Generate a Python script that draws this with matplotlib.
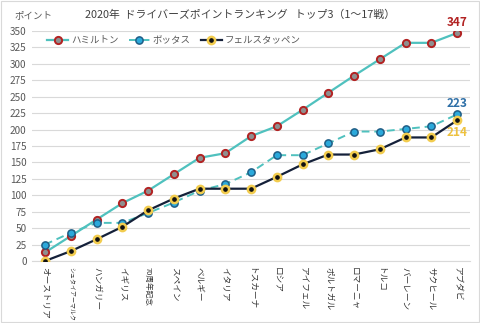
import matplotlib
matplotlib.use("Agg")
import matplotlib.pyplot as plt

plt.rcParams['font.family'] = ['Noto Sans CJK JP', 'DejaVu Sans']

races = ["オーストリア", "シュタイアーマルク", "ハンガリー", "イギリス", "70周年記念", "スペイン",
         "ベルギー", "イタリア", "トスカーナ", "ロシア", "アイフェル", "ポルトガル",
         "ロマーニャ", "トルコ", "バーレーン", "サクヒール", "アブダビ"]
hamilton = [13, 38, 63, 88, 107, 132, 157, 164, 190, 205, 230, 256, 282, 307, 332, 332, 347]
bottas = [25, 43, 58, 58, 73, 89, 107, 117, 135, 161, 161, 179, 197, 197, 201, 205, 223]
verstappen = [0, 15, 33, 52, 77, 95, 110, 110, 110, 128, 147, 162, 162, 170, 188, 188, 214]
names = ["ハミルトン", "ボッタス", "フェルスタッペン"]

fig = plt.figure(figsize=(4.8, 3.23), dpi=100)
ax = fig.add_axes([0.067, 0.192, 0.912, 0.712])
x = list(range(len(races)))

ms = 5.2
ax.plot(x, hamilton, color='#4FC1BE', lw=1.6, marker='o', ms=ms,
        mfc='#8F8F8F', mec='#B22222', mew=1.4, label=names[0], zorder=3)
ax.plot(x, bottas, color='#4FC1BE', lw=1.4, ls=(0, (4, 2.5)), marker='o', ms=ms,
        mfc='#2BA9DB', mec='#1F5E86', mew=1.1, label=names[1], zorder=4)
ax.plot(x, verstappen, color='#142039', lw=1.6, marker='o', ms=ms,
        mfc='#111111', mec='#F2CC4E', mew=1.8, label=names[2], zorder=5)

ax.set_xlim(-0.5, len(races) - 0.5)
ax.set_ylim(0, 350)
ax.set_yticks(range(0, 351, 25))
ax.yaxis.grid(True, color='#D9D9D9', lw=0.8)
ax.set_axisbelow(True)
for s in ['top', 'right', 'left']:
    ax.spines[s].set_visible(False)
ax.spines['bottom'].set_color('#D9D9D9')
ax.tick_params(axis='y', length=0, labelsize=7.2, labelcolor='#595959', pad=4)
ax.tick_params(axis='x', length=0, labelcolor='#333333', pad=4)
ax.set_xticks(x)
ax.set_xticklabels(races, rotation=-90, va='top', ha='center', fontsize=6.2)
for lbl in ax.get_xticklabels():
    if lbl.get_text() == "シュタイアーマルク":
        lbl.set_fontsize(4.3)
    elif lbl.get_text() == "70周年記念":
        lbl.set_fontsize(5.5)

ax.annotate(str(hamilton[-1]), (x[-1], hamilton[-1]), xytext=(0, 3), textcoords='offset points',
            ha='center', va='bottom', color='#B22222', fontsize=8.5, fontweight='bold')
ax.annotate(str(bottas[-1]), (x[-1], bottas[-1]), xytext=(0, 3), textcoords='offset points',
            ha='center', va='bottom', color='#2E6FA7', fontsize=8.5, fontweight='bold')
ax.annotate(str(verstappen[-1]), (x[-1], verstappen[-1]), xytext=(0, -4), textcoords='offset points',
            ha='center', va='top', color='#EDC13F', fontsize=8.5, fontweight='bold')

leg = ax.legend(loc='upper left', bbox_to_anchor=(0.015, 1.015), ncol=3, frameon=False,
                fontsize=6.8, handlelength=2.2, columnspacing=1.1, handletextpad=0.3,
                labelcolor='#595959')

fig.text(0.5, 0.953, "2020年  ドライバーズポイントランキング   トップ3（1～17戦）",
         ha='center', va='center', fontsize=7.8, color='#404040')
fig.text(0.03, 0.95, "ポイント", ha='left', va='center', fontsize=6.8, color='#595959')

fig.patches.append(plt.Rectangle((0.002, 0.003), 0.996, 0.994, transform=fig.transFigure,
                                 fill=False, ec='#D9D9D9', lw=0.8))
fig.savefig("out.png", dpi=100)
